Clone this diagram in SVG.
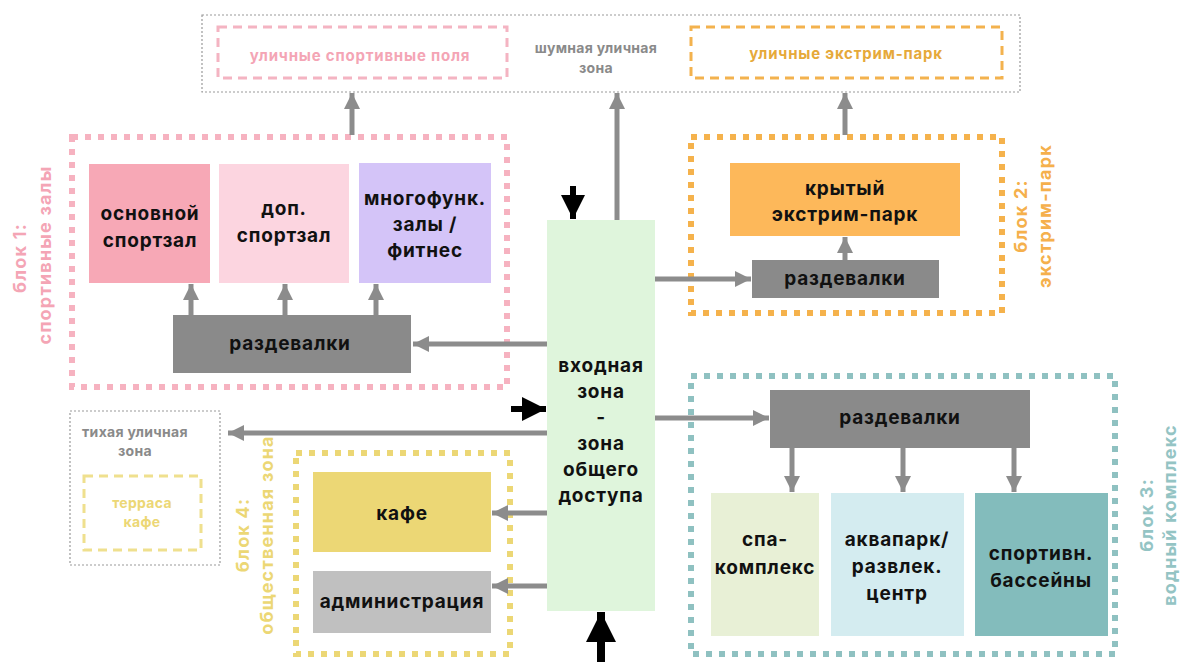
<svg xmlns="http://www.w3.org/2000/svg" width="1180" height="662" viewBox="0 0 1180 662">
<defs>
<marker id="ga" viewBox="0 0 10 10" refX="10" refY="5" markerWidth="16" markerHeight="16" markerUnits="userSpaceOnUse" orient="auto"><path d="M0,0 L10,5 L0,10 z" fill="#8c8c8c"/></marker>
<marker id="ba" viewBox="0 0 10 10" refX="10" refY="5" markerWidth="24" markerHeight="24" markerUnits="userSpaceOnUse" orient="auto"><path d="M0,0 L10,5 L0,10 z" fill="#000"/></marker>
<marker id="bb" viewBox="0 0 10 10" refX="10" refY="5" markerWidth="30" markerHeight="30" markerUnits="userSpaceOnUse" orient="auto"><path d="M0,0 L10,5 L0,10 z" fill="#000"/></marker>
</defs>
<style>
text{font-family:Inter,"Liberation Sans",sans-serif;font-weight:700;text-anchor:middle}
.t{font-size:19px;letter-spacing:0.8px;fill:#111}
.s{font-size:14px;letter-spacing:0.3px}
.p{font-size:15px;letter-spacing:0.8px}
.lab{font-size:18px;letter-spacing:1.2px}
.gl{stroke:#8c8c8c;stroke-width:5;fill:none}
.bl{stroke:#000;stroke-width:6;fill:none}
.dot{fill:none;stroke-width:6;stroke-dasharray:6 7}
.dash{fill:none;stroke-width:3;stroke-dasharray:9 6}
</style>
<rect width="1180" height="662" fill="#fff"/>

<g id="noisy-zone">
<rect x="202" y="15" width="818" height="77" fill="none" stroke="#999" stroke-width="1.2" stroke-dasharray="2 2"/>
<text x="596" y="53" class="s" fill="#8a8a8a">шумная уличная</text>
<text x="596" y="73" class="s" fill="#8a8a8a">зона</text>
</g>
<g id="outdoor-fields">
<rect x="218" y="27" width="289" height="51" class="dash" stroke="#f4b4c2"/>
<text x="360" y="61" class="p" fill="#f4a5b5">уличные спортивные поля</text>
</g>
<g id="outdoor-extreme">
<rect x="691" y="27" width="311" height="51" class="dash" stroke="#f3b24e"/>
<text x="846" y="59" class="p" fill="#e6a93a">уличные экстрим-парк</text>
</g>

<g id="block1">
<rect x="72" y="137" width="435" height="250" class="dot" stroke="#f6b2c0"/>
<text transform="translate(26,258) rotate(-90)" class="lab" fill="#f4a5b5">блок 1:</text>
<text transform="translate(51,255) rotate(-90)" class="lab" fill="#f4a5b5">спортивные залы</text>
</g>
<g id="main-gym">
<rect x="89" y="164" width="121" height="119" fill="#f7a8b6"/>
<text x="150" y="220" class="t">основной</text>
<text x="150" y="247" class="t">спортзал</text>
</g>
<g id="extra-gym">
<rect x="219" y="164" width="130" height="119" fill="#fcd5e0"/>
<text x="284" y="215" class="t">доп.</text>
<text x="284" y="242" class="t">спортзал</text>
</g>
<g id="multi-halls">
<rect x="359" y="163" width="132" height="120" fill="#d4c4f8"/>
<text x="425" y="205" class="t">многофунк.</text>
<text x="425" y="231" class="t">залы /</text>
<text x="425" y="257" class="t">фитнес</text>
</g>
<g id="lockers1">
<rect x="173" y="315" width="238" height="58" fill="#8a8a8a"/>
<text x="290" y="350" class="t">раздевалки</text>
</g>

<g id="block2">
<rect x="691" y="137" width="311" height="176" class="dot" stroke="#f5b24c"/>
<text transform="translate(1027,216) rotate(-90)" class="lab" fill="#f5b04c">блок 2:</text>
<text transform="translate(1051,216) rotate(-90)" class="lab" fill="#f5b04c">экстрим-парк</text>
</g>
<g id="indoor-extreme">
<rect x="730" y="163" width="230" height="73" fill="#fdb85a"/>
<text x="845" y="195" class="t">крытый</text>
<text x="845" y="221" class="t">экстрим-парк</text>
</g>
<g id="lockers2">
<rect x="752" y="260" width="187" height="38" fill="#8a8a8a"/>
<text x="845" y="285" class="t">раздевалки</text>
</g>

<g id="block3">
<rect x="691" y="376" width="424" height="278" class="dot" stroke="#8fc1c1"/>
<text transform="translate(1153,515) rotate(-90)" class="lab" fill="#94c4c4">блок 3:</text>
<text transform="translate(1176,515) rotate(-90)" class="lab" fill="#94c4c4">водный комплекс</text>
</g>
<g id="lockers3">
<rect x="770" y="390" width="260" height="58" fill="#8a8a8a"/>
<text x="900" y="424" class="t">раздевалки</text>
</g>
<g id="spa">
<rect x="711" y="493" width="108" height="143" fill="#e8f0d6"/>
<text x="765" y="546" class="t">спа-</text>
<text x="765" y="574" class="t">комплекс</text>
</g>
<g id="aquapark">
<rect x="831" y="493" width="133" height="143" fill="#d4ecf0"/>
<text x="897" y="546" class="t">аквапарк/</text>
<text x="897" y="573" class="t">развлек.</text>
<text x="897" y="600" class="t">центр</text>
</g>
<g id="pools">
<rect x="975" y="493" width="133" height="143" fill="#83bcbc"/>
<text x="1041" y="560" class="t">спортивн.</text>
<text x="1041" y="587" class="t">бассейны</text>
</g>

<g id="block4">
<rect x="296" y="453" width="214" height="201" class="dot" stroke="#ecd775"/>
<text transform="translate(249,535) rotate(-90)" class="lab" fill="#ecd775">блок 4:</text>
<text transform="translate(273,535) rotate(-90)" class="lab" fill="#ecd775">общественная зона</text>
</g>
<g id="cafe">
<rect x="313" y="472" width="178" height="80" fill="#ecd775"/>
<text x="402" y="520" class="t">кафе</text>
</g>
<g id="admin">
<rect x="313" y="571" width="178" height="62" fill="#c0c0c0"/>
<text x="402" y="608" class="t">администрация</text>
</g>

<g id="quiet-zone">
<rect x="70" y="411" width="150" height="154" fill="none" stroke="#999" stroke-width="1.2" stroke-dasharray="2 2"/>
<text x="135" y="437" class="s" fill="#8a8a8a">тихая уличная</text>
<text x="135" y="456" class="s" fill="#8a8a8a">зона</text>
</g>
<g id="terrace">
<rect x="84" y="476" width="117" height="74" class="dash" stroke="#efe08e"/>
<text x="142" y="508" class="s" fill="#ecd775">терраса</text>
<text x="142" y="527" class="s" fill="#ecd775">кафе</text>
</g>

<g id="entrance">
<rect x="547" y="220" width="108" height="391" fill="#dff5dc"/>
<text x="601" y="372" class="t">входная</text>
<text x="601" y="398" class="t">зона</text>
<text x="601" y="424" class="t">-</text>
<text x="601" y="450" class="t">зона</text>
<text x="601" y="476" class="t">общего</text>
<text x="601" y="502" class="t">доступа</text>
</g>

<g id="connectors">
<line x1="352" y1="135" x2="352" y2="93" class="gl" marker-end="url(#ga)"/>
<line x1="617" y1="220" x2="617" y2="93" class="gl" marker-end="url(#ga)"/>
<line x1="845" y1="135" x2="845" y2="93" class="gl" marker-end="url(#ga)"/>
<line x1="191" y1="315" x2="191" y2="284" class="gl" marker-end="url(#ga)"/>
<line x1="285" y1="315" x2="285" y2="284" class="gl" marker-end="url(#ga)"/>
<line x1="376" y1="315" x2="376" y2="284" class="gl" marker-end="url(#ga)"/>
<line x1="547" y1="344" x2="413" y2="344" class="gl" marker-end="url(#ga)"/>
<line x1="655" y1="279" x2="751" y2="279" class="gl" marker-end="url(#ga)"/>
<line x1="845" y1="260" x2="845" y2="237" class="gl" marker-end="url(#ga)"/>
<line x1="655" y1="418" x2="769" y2="418" class="gl" marker-end="url(#ga)"/>
<line x1="792" y1="448" x2="792" y2="492" class="gl" marker-end="url(#ga)"/>
<line x1="903" y1="448" x2="903" y2="492" class="gl" marker-end="url(#ga)"/>
<line x1="1014" y1="448" x2="1014" y2="492" class="gl" marker-end="url(#ga)"/>
<line x1="547" y1="433" x2="228" y2="433" class="gl" marker-end="url(#ga)"/>
<line x1="547" y1="513" x2="492" y2="513" class="gl" marker-end="url(#ga)"/>
<line x1="547" y1="586" x2="492" y2="586" class="gl" marker-end="url(#ga)"/>
<line x1="573" y1="186" x2="573" y2="219" class="bl" marker-end="url(#ba)"/>
<line x1="511" y1="409" x2="546" y2="409" class="bl" marker-end="url(#ba)"/>
<line x1="601" y1="662" x2="601" y2="612" stroke="#000" stroke-width="8" marker-end="url(#bb)"/>
</g>
</svg>
